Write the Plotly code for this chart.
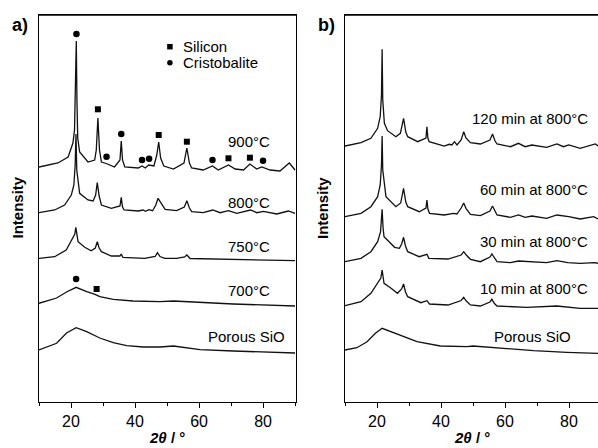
import plotly.graph_objects as go

# ---------------- Panel a) : annealing temperature ----------------
tt_a_900 = [10, 15.9, 19.1, 20.6, 21.1, 21.45, 21.65, 21.85, 22.1, 22.7, 25.3, 27.4, 27.9, 28.4, 28.9, 29.5,
            31.0, 33.6, 35.3, 35.7, 36.1, 36.8, 41, 42.2, 43.2, 44.3, 45.9, 46.8, 47.4, 48.0, 49, 52, 55.3,
            56.2, 57.0, 57.7, 61.3, 64.2, 66, 69.2, 71.3, 73.9, 75.9, 78, 79.6, 82.2, 85.3, 88.2, 90]
int_a_900 = [235, 239, 245, 259, 272, 312, 361, 302, 264, 250, 240, 242, 252, 284, 252, 240,
             238.5, 235, 242, 261, 242, 235, 234, 236, 234, 237, 236, 247, 260, 244, 236, 233, 239,
             254, 239, 234, 232, 236, 232, 237, 233, 232, 238, 233, 235, 232, 231, 239, 232]

tt_a_800 = [10, 14.9, 18, 20.1, 20.9, 21.3, 21.55, 21.8, 22.7, 25.3, 26.9, 27.7, 28.2, 28.8, 29.5, 32.6,
            35.3, 35.7, 36.1, 36.6, 41, 42.5, 43.3, 44.3, 45.5, 46.5, 47.2, 47.8, 49.4, 53, 55.4, 56.2,
            57, 57.7, 61.3, 64.3, 66.6, 69.2, 71.8, 76.1, 78.1, 80.1, 84.3, 87.9, 90]
int_a_800 = [189.3, 192, 197, 207, 217, 237, 268, 232, 208.7, 202, 201, 207, 219.3, 206, 197, 193.7,
             196, 204.7, 195, 192, 191, 192, 190.7, 192.3, 191.3, 197, 203.7, 200.3, 192.7, 191.3, 195, 201.3,
             194, 190.3, 189.3, 192, 189.3, 191.3, 188.7, 192, 189.3, 190.7, 188, 191, 188.7]

tt_a_750 = [10, 14.9, 18.5, 20.6, 21.2, 21.5, 21.8, 22.2, 24.3, 26.3, 27.6, 28.2, 28.8, 29.5, 32.6, 35.3,
            35.7, 36.2, 43, 46.3, 47, 47.8, 49.3, 53, 55.5, 56.2, 57.2, 68.6, 79, 90]
int_a_750 = [143.7, 145.3, 152, 163.7, 168, 174.7, 166, 160.3, 154.7, 151.3, 154, 160.3, 154, 150.3, 146, 146,
             148, 144.7, 143.7, 145.5, 149.3, 145.5, 143.7, 143.7, 145, 147, 143.5, 142.7, 142, 141.3]

tt_a_700 = [10, 15.5, 18.6, 21.6, 24.9, 27.5, 29, 33.2, 39.4, 47.8, 52, 60.3, 70.7, 90]
int_a_700 = [98.7, 104, 110, 114.7, 110.3, 107.7, 105.3, 102.7, 101, 100.3, 101, 99.7, 98, 96]

tt_a_sio = [10, 15.5, 18.6, 21.6, 24.9, 29, 33.2, 37.4, 42.6, 47.8, 52, 56, 60.3, 70.7, 81, 90]
int_a_sio = [52, 58.7, 69, 74.3, 70.3, 64, 59.3, 56.3, 55, 55, 56, 54.3, 52.3, 51, 50, 49]

# reflection markers (panel a)
silicon_tt = [28.4, 47.4, 56.2, 69.2, 75.9, 28.0]
silicon_int = [292.7, 267, 260.3, 243.7, 244.3, 113]
cristobalite_tt = [21.7, 31.1, 35.7, 42.2, 44.4, 64.2, 80.0, 21.6]
cristobalite_int = [368, 245.3, 268, 242, 243.3, 242, 241.3, 123]

labels_a = ["900°C", "800°C", "750°C", "700°C", "Porous SiO"]
labels_a_int = [260.3, 199.7, 155.3, 111.3, 66]

# ---------------- Panel b) : annealing time at 800 °C ----------------
tt_b_120 = [10, 15, 18.1, 20.2, 21, 21.4, 21.6, 21.8, 22.3, 23.3, 25.9, 27.3, 28.3, 29.0, 29.6, 32.7, 35.3,
            35.6, 35.9, 36.3, 41, 42.6, 43.4, 44.2, 45, 46.3, 47.1, 47.8, 49.2, 52.3, 55.3, 56.1, 56.9, 57.5,
            61.7, 64.2, 66.3, 68.4, 73, 76.2, 78.3, 79.9, 83.5, 88.2, 89.1]
int_b_120 = [256, 259.3, 263.7, 273.7, 285.3, 307, 352.7, 302, 278.7, 271.3, 265.3, 268.7, 283.7, 270, 265.3, 260.3, 264,
             275.3, 264, 260.3, 256, 257.7, 257, 260.3, 257, 262, 270.3, 264, 259.3, 258, 262, 268, 261, 258,
             255.3, 258.7, 255.3, 257, 254.7, 258, 255.3, 257, 253.7, 258, 256]

tt_b_60 = [10, 15, 18.1, 20.2, 21, 21.4, 21.6, 21.8, 22.8, 25.9, 27.4, 28.3, 29, 29.6, 33.2, 35.3, 35.6,
           35.9, 36.4, 41, 43.9, 45, 46.3, 47.1, 47.8, 49.2, 52.3, 55.3, 56.1, 56.9, 57.5, 61.7, 64.2, 66.3,
           68.4, 73, 76.2, 79.9, 83.5, 87.7, 89.1]
int_b_60 = [185.3, 188.7, 195.3, 205.3, 217, 237, 266, 232, 205.3, 195.3, 199, 213.7, 200, 195.3, 190.3, 194, 202,
            193, 188.7, 187, 188.7, 188, 194, 199, 193.7, 187.7, 186.3, 191, 196, 190, 187, 184.7, 187, 184.7,
            186, 183.7, 187, 185.3, 183, 185.3, 183]

tt_b_30 = [10, 15, 18.1, 20.2, 21.1, 21.6, 21.9, 22.2, 25.5, 27, 27.7, 28.3, 28.9, 29.6, 33.2, 35.6, 36.2,
           42.2, 46.3, 47.1, 47.9, 49.2, 52.3, 55.3, 55.9, 56.7, 57.5, 61.7, 64.2, 73, 76.2, 79.6, 83.5, 88, 89.1]
int_b_30 = [140.3, 143.7, 150.3, 160.3, 170, 192.7, 174, 165.3, 154.7, 153.7, 158, 164.7, 156, 150.3, 145.3, 147.7, 143.7,
            143, 147, 150.3, 147, 142.7, 140.3, 145, 148, 143.5, 140.3, 139.3, 141, 139.3, 141.3, 139.3, 138.7, 139.3, 138.7]

tt_b_10 = [10, 15, 18.1, 20.2, 21.2, 21.6, 21.9, 22.2, 24.4, 26.4, 27.7, 28.3, 28.9, 29.6, 33.7, 35.6, 36.4,
           42.2, 46.3, 47.1, 47.9, 49.2, 52.3, 55.3, 55.9, 56.7, 57.5, 66.8, 76.2, 83.5, 89.1]
int_b_10 = [96.3, 100.3, 108.7, 118.7, 124, 132, 123, 118.7, 113.7, 108.7, 113, 118, 110, 105.3, 99.3, 101.3, 98,
            97, 101.5, 104.7, 101, 97, 96, 100, 102.7, 98.5, 96, 94.7, 96, 93.7, 93.7]

tt_b_sio = [10, 13.7, 16.9, 19.5, 21.6, 27.3, 32.5, 39.8, 48.1, 50, 58.5, 68.9, 79.3, 88.7, 89.1]
int_b_sio = [52, 54.3, 60.3, 68.7, 73.7, 67, 60.3, 56, 55.3, 56, 53.7, 51.3, 49.7, 48.7, 48.7]

labels_b = ["120 min at 800°C", "60 min at 800°C", "30 min at 800°C", "10 min at 800°C", "Porous SiO"]
labels_b_int = [283.7, 212.7, 161, 113.7, 66]
labels_b_tt = [86.7, 86.7, 86.7, 86.7, 81.4]

x_tick_vals = [20, 40, 60, 80]
x_tick_text = ["20", "40", "60", "80"]

# ---------------- figure ----------------
W, H = 598, 448
FONT = "Liberation Sans, Arial, sans-serif"
LBL = 15
fig = go.Figure()


def add_curve(x, y, xa, ya):
    fig.add_trace(go.Scatter(x=x, y=y, mode="lines", line=dict(color="#111111", width=1.3),
                             xaxis=xa, yaxis=ya, showlegend=False, hoverinfo="skip"))


for xs, ys in [(tt_a_900, int_a_900), (tt_a_800, int_a_800), (tt_a_750, int_a_750),
               (tt_a_700, int_a_700), (tt_a_sio, int_a_sio)]:
    add_curve(xs, ys, "x", "y")
for xs, ys in [(tt_b_120, int_b_120), (tt_b_60, int_b_60), (tt_b_30, int_b_30),
               (tt_b_10, int_b_10), (tt_b_sio, int_b_sio)]:
    add_curve(xs, ys, "x2", "y2")

fig.add_trace(go.Scatter(x=silicon_tt, y=silicon_int, mode="markers",
                         marker=dict(symbol="square", size=6, color="black"),
                         xaxis="x", yaxis="y", showlegend=False, hoverinfo="skip"))
fig.add_trace(go.Scatter(x=cristobalite_tt, y=cristobalite_int, mode="markers",
                         marker=dict(symbol="circle", size=6.5, color="black"),
                         xaxis="x", yaxis="y", showlegend=False, hoverinfo="skip"))
# legend key markers
fig.add_trace(go.Scatter(x=[50.9, 50.9], y=[355.3, 339.3], mode="markers",
                         marker=dict(symbol=["square", "circle"], size=5.5, color="black"),
                         xaxis="x", yaxis="y", showlegend=False, hoverinfo="skip"))

ann = []
for t, v in zip(labels_a, labels_a_int):
    xr = 87.6 if t == "Porous SiO" else 82.8
    ann.append(dict(x=xr, y=v, xref="x", yref="y", text=t, showarrow=False, xanchor="right",
                    yanchor="middle", font=dict(size=LBL, color="black", family=FONT)))
for t, v, xr in zip(labels_b, labels_b_int, labels_b_tt):
    ann.append(dict(x=xr, y=v, xref="x2", yref="y2", text=t, showarrow=False, xanchor="right",
                    yanchor="middle", font=dict(size=LBL, color="black", family=FONT)))
ann.append(dict(x=54.3, y=355.3, xref="x", yref="y", text="Silicon", showarrow=False, xanchor="left",
                yanchor="middle", font=dict(size=LBL, color="black", family=FONT)))
ann.append(dict(x=54.3, y=339.3, xref="x", yref="y", text="Cristobalite", showarrow=False, xanchor="left",
                yanchor="middle", font=dict(size=LBL, color="black", family=FONT)))

PH = 387.0
def py(p):
    return (402 - p) / PH

ann.append(dict(x=19.5 / W, y=py(25), xref="paper", yref="paper", text="<b>a)</b>", showarrow=False,
                xanchor="center", yanchor="middle", font=dict(size=18, color="black", family=FONT)))
ann.append(dict(x=326.5 / W, y=py(25), xref="paper", yref="paper", text="<b>b)</b>", showarrow=False,
                xanchor="center", yanchor="middle", font=dict(size=18, color="black", family=FONT)))
for xc in (17.5, 323):
    ann.append(dict(x=xc / W, y=py(208), xref="paper", yref="paper", text="<b>Intensity</b>",
                    textangle=-90, showarrow=False, xanchor="center", yanchor="middle",
                    font=dict(size=15, color="black", family=FONT)))
for xc in (167, 472):
    ann.append(dict(x=xc / W, y=py(437), xref="paper", yref="paper", text="<b><i>2θ</i> / °</b>",
                    showarrow=False, xanchor="center", yanchor="middle",
                    font=dict(size=15, color="black", family=FONT)))

# top frame lines of both panels
shapes = [
    dict(type="line", xref="x domain", yref="y domain", x0=0, x1=1, y0=1, y1=1,
         line=dict(color="black", width=1.3)),
    dict(type="line", xref="x2 domain", yref="y2 domain", x0=0, x1=1, y0=1, y1=1,
         line=dict(color="black", width=1.3)),
]

xcommon = dict(showline=True, linecolor="black", linewidth=1.3, ticks="outside", ticklen=5,
               tickwidth=1.2, tickcolor="black", tickvals=x_tick_vals, ticktext=x_tick_text,
               showgrid=False, zeroline=False, mirror=True,
               minor=dict(ticks="outside", ticklen=3, tickwidth=1.1, tickcolor="black",
                          tickvals=[10, 30, 50, 70, 90], showgrid=False),
               tickfont=dict(size=16, color="black", family=FONT))
ycommon = dict(range=[0, PH], showticklabels=False, ticks="", showgrid=False, zeroline=False,
               showline=True, linecolor="black", linewidth=1.3)

fig.update_layout(
    width=W, height=H, margin=dict(l=0, r=0, t=15, b=46),
    plot_bgcolor="white", paper_bgcolor="white",
    xaxis=dict(domain=[39 / W, 296 / W], range=[10, 90.3], anchor="y", **xcommon),
    yaxis=dict(domain=[0, 1], anchor="x", mirror=True, **ycommon),
    xaxis2=dict(domain=[345 / W, 1], range=[10, 89.06], anchor="y2", **xcommon),
    yaxis2=dict(domain=[0, 1], anchor="x2", mirror=False, **ycommon),
    annotations=ann, shapes=shapes, showlegend=False,
)

fig.write_html("out.html", config={"displayModeBar": False},
               post_script="document.body.style.margin='0';document.body.style.overflow='hidden';")
